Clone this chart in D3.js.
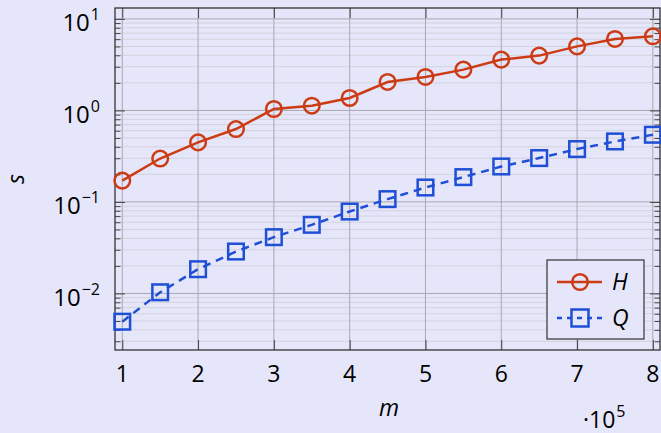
<!DOCTYPE html>
<html>
<head>
<meta charset="utf-8">
<script src="https://cdn.jsdelivr.net/npm/d3@7"></script>
<style>
  html, body { margin: 0; padding: 0; background: #e6e6fa; }
  svg { display: block; font-family: "Open Sans", "Liberation Sans", sans-serif; }
</style>
</head>
<body>
<div id="chart"></div>
<script>
// x in units of 10^5
var mValues = [1, 1.5, 2, 2.5, 3, 3.5, 4, 4.5, 5, 5.5, 6, 6.5, 7, 7.5, 8];
var hValues = [0.171, 0.298, 0.447, 0.626, 1.036, 1.126, 1.367, 2.045, 2.32, 2.79, 3.59, 3.97, 5.01, 6.04, 6.45];
var qValues = [0.00491, 0.0103, 0.0184, 0.0287, 0.0412, 0.0562, 0.0785, 0.1073, 0.1437, 0.1867, 0.2439, 0.3014, 0.378, 0.458, 0.542];
var xTicks = [1, 2, 3, 4, 5, 6, 7, 8];
var yDecades = [-2, -1, 0, 1];

var W = 661, H = 433;
var pLeft = 115, pRight = 660, pTop = 8, pBottom = 350;

var svg = d3.select('#chart').append('svg')
    .attr('width', W)
    .attr('height', H);

var x = d3.scaleLinear().domain([0.904, 8.094]).range([pLeft, pRight]);
var y = d3.scaleLog().domain([Math.pow(10, -2.618), Math.pow(10, 1.119)]).range([pBottom, pTop]);

var red = '#cc3b14', blue = '#1f4fd6';
var lw = 2.5;

// grid
var minor = y.ticks().filter(function(v){
    var e = Math.log10(v);
    return Math.abs(e - Math.round(e)) > 1e-6;
});
var major = yDecades.map(function(d){ return Math.pow(10, d); });

var grid = svg.append('g');
grid.selectAll('line.minor').data(minor).enter().append('line')
    .attr('x1', pLeft).attr('x2', pRight)
    .attr('y1', function(d){ return y(d); }).attr('y2', function(d){ return y(d); })
    .attr('stroke', '#d2d2de').attr('stroke-width', 1);
grid.selectAll('line.major').data(major).enter().append('line')
    .attr('x1', pLeft).attr('x2', pRight)
    .attr('y1', function(d){ return y(d); }).attr('y2', function(d){ return y(d); })
    .attr('stroke', '#a8a8b0').attr('stroke-width', 1);
grid.selectAll('line.vert').data(xTicks).enter().append('line')
    .attr('y1', pTop).attr('y2', pBottom)
    .attr('x1', function(d){ return x(d); }).attr('x2', function(d){ return x(d); })
    .attr('stroke', '#a8a8b0').attr('stroke-width', 1);

// ticks (inside, mirrored) via d3 axes
function tickAxis(axis, tr){
    var g = svg.append('g').attr('transform', tr).call(axis);
    g.select('.domain').remove();
    g.selectAll('line').attr('stroke', '#444');
    g.selectAll('text').remove();
    return g;
}
tickAxis(d3.axisLeft(y).tickValues(minor).tickSize(-5.5), 'translate(' + pLeft + ',0)');
tickAxis(d3.axisLeft(y).tickValues(major).tickSize(-10), 'translate(' + pLeft + ',0)');
tickAxis(d3.axisRight(y).tickValues(minor).tickSize(-5.5), 'translate(' + pRight + ',0)');
tickAxis(d3.axisRight(y).tickValues(major).tickSize(-10), 'translate(' + pRight + ',0)');
tickAxis(d3.axisBottom(x).tickValues(xTicks).tickSize(-10), 'translate(0,' + pBottom + ')');
tickAxis(d3.axisTop(x).tickValues(xTicks).tickSize(-10), 'translate(0,' + pTop + ')');

// frame
svg.append('rect')
    .attr('x', pLeft).attr('y', pTop)
    .attr('width', pRight - pLeft).attr('height', pBottom - pTop)
    .attr('fill', 'none').attr('stroke', '#333').attr('stroke-width', 1.3);

// tick labels
svg.selectAll('text.xl').data(xTicks).enter().append('text')
    .attr('x', function(d){ return x(d); })
    .attr('y', 382)
    .attr('text-anchor', 'middle')
    .attr('font-size', 23)
    .attr('fill', '#000')
    .text(function(d){ return d; });

var yl = svg.selectAll('text.yl').data(yDecades).enter().append('text')
    .attr('x', 100)
    .attr('y', function(d){ return y(Math.pow(10, d)) + 12.5; })
    .attr('text-anchor', 'end')
    .attr('font-size', 24)
    .attr('fill', '#000');
yl.append('tspan').text('10');
yl.append('tspan')
    .attr('font-size', 16)
    .attr('dy', -11)
    .attr('dx', 1)
    .text(function(d){ return d < 0 ? '\u2212' + (-d) : d; });

// axis labels
svg.append('text')
    .attr('transform', 'translate(24,179) rotate(-90)')
    .attr('text-anchor', 'middle')
    .attr('font-size', 23)
    .attr('font-style', 'italic')
    .attr('fill', '#000')
    .text('s');
svg.append('text')
    .attr('x', 389).attr('y', 416)
    .attr('text-anchor', 'middle')
    .attr('font-size', 23)
    .attr('font-style', 'italic')
    .attr('fill', '#000')
    .text('m');
var mult = svg.append('text')
    .attr('x', 583).attr('y', 428)
    .attr('font-size', 23)
    .attr('fill', '#000');
mult.append('tspan').text('\u00b710');
mult.append('tspan').attr('font-size', 16).attr('dy', -11).attr('dx', 1).text('5');

// series
var plot = svg.append('g');
function series(vals, color, dashed){
    var pts = mValues.map(function(m, i){ return [m, vals[i]]; });
    var line = d3.line().x(function(d){ return x(d[0]); }).y(function(d){ return y(d[1]); });
    plot.append('path')
        .attr('d', line(pts))
        .attr('fill', 'none')
        .attr('stroke', color)
        .attr('stroke-width', lw)
        .attr('stroke-dasharray', dashed ? '8,6' : null);
    return pts;
}
var hPts = series(hValues, red, false);
var qPts = series(qValues, blue, true);

plot.selectAll('circle.h').data(hPts).enter().append('circle')
    .attr('cx', function(d){ return x(d[0]); })
    .attr('cy', function(d){ return y(d[1]); })
    .attr('r', 7.8)
    .attr('fill', 'none')
    .attr('stroke', red)
    .attr('stroke-width', lw);
plot.selectAll('rect.q').data(qPts).enter().append('rect')
    .attr('x', function(d){ return x(d[0]) - 7.8; })
    .attr('y', function(d){ return y(d[1]) - 7.8; })
    .attr('width', 15.6).attr('height', 15.6)
    .attr('fill', 'none')
    .attr('stroke', blue)
    .attr('stroke-width', lw);

// legend
var lg = svg.append('g');
lg.append('rect')
    .attr('x', 547).attr('y', 260)
    .attr('width', 97).attr('height', 79)
    .attr('fill', '#e6e6fa')
    .attr('stroke', '#333').attr('stroke-width', 1.2);
lg.append('line').attr('x1', 557).attr('x2', 602).attr('y1', 282).attr('y2', 282)
    .attr('stroke', red).attr('stroke-width', lw);
lg.append('circle').attr('cx', 580).attr('cy', 282).attr('r', 7.8)
    .attr('fill', 'none').attr('stroke', red).attr('stroke-width', lw);
lg.append('line').attr('x1', 557).attr('x2', 602).attr('y1', 318).attr('y2', 318)
    .attr('stroke', blue).attr('stroke-width', lw).attr('stroke-dasharray', '5,5');
lg.append('rect').attr('x', 571.5).attr('y', 309.5).attr('width', 17).attr('height', 17)
    .attr('fill', 'none').attr('stroke', blue).attr('stroke-width', lw);
lg.append('text').attr('x', 612).attr('y', 290).attr('font-size', 23)
    .attr('font-style', 'italic').attr('fill', '#000').text('H');
lg.append('text').attr('x', 612).attr('y', 326).attr('font-size', 23)
    .attr('font-style', 'italic').attr('fill', '#000').text('Q');
</script>
</body>
</html>
